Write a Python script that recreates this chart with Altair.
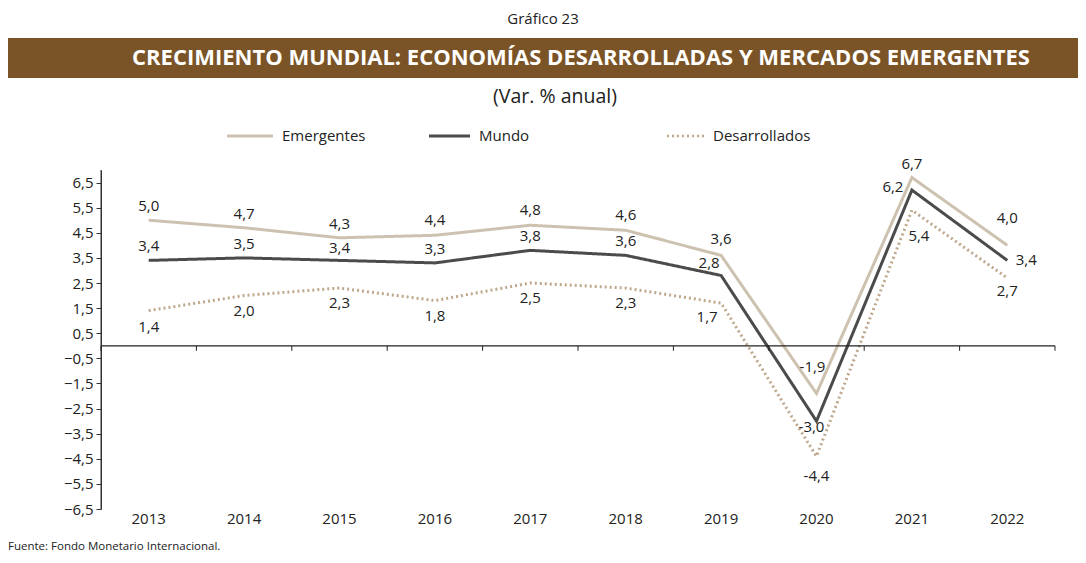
import altair as alt
import pandas as pd

# ---- data ----
years = ["2013", "2014", "2015", "2016", "2017", "2018", "2019", "2020", "2021", "2022"]
series_names = ["Emergentes", "Mundo", "Desarrollados"]
emergentes = [5.0, 4.7, 4.3, 4.4, 4.8, 4.6, 3.6, -1.9, 6.7, 4.0]
mundo = [3.4, 3.5, 3.4, 3.3, 3.8, 3.6, 2.8, -3.0, 6.2, 3.4]
desarrollados = [1.4, 2.0, 2.3, 1.8, 2.5, 2.3, 1.7, -4.4, 5.4, 2.7]
y_ticks = [-6.5, -5.5, -4.5, -3.5, -2.5, -1.5, -0.5, 0.5, 1.5, 2.5, 3.5, 4.5, 5.5, 6.5]
y_domain = [-6.5, 7.0]

# label placement offsets (pixels), kept apart from the values
emer_dx = [0, 0, 0, 0, 0, 0, 0, -4, 0, 0]
emer_dy = [-14, -14, -14, -15, -15, -15, -16, -26, -14, -27]
mundo_dx = [0, 0, 0, 0, 0, 0, -12, -5, -19, 19]
mundo_dy = [-14, -14, -12, -14, -14, -14, -12, 6, -3, 0]
des_dx = [0, 0, 0, 0, 0, 0, -14, 0, 7, 0]
des_dy = [16, 15, 15, 15, 15, 15, 14, 20, 26, 13]

colors = ["#cdc2b0", "#4b4b4b", "#bfa78c"]
dashes = [[1, 0], [1, 0], [2, 3]]
widths = [3, 3, 2.5]

rows = []
for name, vals, dxs, dys in [
    ("Emergentes", emergentes, emer_dx, emer_dy),
    ("Mundo", mundo, mundo_dx, mundo_dy),
    ("Desarrollados", desarrollados, des_dx, des_dy),
]:
    for y, v, dx, dy in zip(years, vals, dxs, dys):
        rows.append({"year": y, "series": name, "value": v, "dx": dx, "dy": dy})
df = pd.DataFrame(rows)
df["label"] = df["value"].map(lambda v: f"{v:.1f}".replace(".", ","))

FONT = "Open Sans"
W, H = 954, 339

x_scale = alt.Scale(type="band", domain=years, paddingInner=0, paddingOuter=0)
y_scale = alt.Scale(domain=y_domain, nice=False, zero=False)

x_enc = alt.X("year:O", scale=x_scale, title=None, bandPosition=0.5,
              axis=alt.Axis(labelAngle=0, bandPosition=0.5))
y_enc = alt.Y("value:Q", scale=y_scale, title=None,
              axis=alt.Axis(values=y_ticks, tickCount=40,
                            labelExpr="replace(format(datum.value, '.1f'), '.', ',')"))

color = alt.Color("series:N", scale=alt.Scale(domain=series_names, range=colors), legend=None)
dash = alt.StrokeDash("series:N", scale=alt.Scale(domain=series_names, range=dashes), legend=None)
swidth = alt.StrokeWidth("series:N", scale=alt.Scale(domain=series_names, range=widths), legend=None)

lines = alt.Chart(df).mark_line(strokeCap="butt", strokeJoin="miter").encode(
    x=x_enc, y=y_enc, color=color, strokeDash=dash, strokeWidth=swidth,
    detail="series:N"
)

# value labels: one layer per distinct offset
label_layers = []
for (dx, dy), _ in df.groupby(["dx", "dy"]):
    label_layers.append(
        alt.Chart(df).transform_filter(
            (alt.datum.dx == int(dx)) & (alt.datum.dy == int(dy))
        ).mark_text(fontSize=15, font=FONT, color="#222", dx=int(dx), dy=int(dy)).encode(
            x=alt.X("year:O", scale=x_scale, bandPosition=0.5),
            y=alt.Y("value:Q", scale=y_scale),
            text="label:N",
        )
    )

one = pd.DataFrame({"year": years})
single = one.head(1)

zero_rule = alt.Chart(pd.DataFrame({"value": [0.0]})).mark_rule(color="#222", strokeWidth=1.2).encode(
    y=alt.Y("value:Q", scale=y_scale)
)
y_domain_line = alt.Chart(single).mark_rule(color="#333", strokeWidth=1).encode(
    x=alt.value(0), y=alt.datum(y_domain[0]), y2=alt.datum(y_domain[1])
)
ticks = alt.Chart(one).mark_rule(color="#222", strokeWidth=1).encode(
    x=alt.X("year:O", scale=x_scale, bandPosition=0),
    y=alt.datum(0), y2=alt.datum(-0.2),
)
last_tick = alt.Chart(one).transform_filter(alt.datum.year == years[-1]).mark_rule(
    color="#222", strokeWidth=1).encode(
    x=alt.X("year:O", scale=x_scale, bandPosition=1),
    y=alt.datum(0), y2=alt.datum(-0.2),
)

# decorations: headings, banner, legend, source
deco = []
deco.append(alt.Chart(single).mark_text(text="Gráfico 23", fontSize=15, font=FONT,
                                        color="#222").encode(x=alt.value(442), y=alt.value(-151)))
deco.append(alt.Chart(single).mark_rect(color="#7a5426").encode(
    x=alt.value(-93), x2=alt.value(977), y=alt.value(-132), y2=alt.value(-92)))
deco.append(alt.Chart(single).mark_text(
    text="CRECIMIENTO MUNDIAL: ECONOMÍAS DESARROLLADAS Y MERCADOS EMERGENTES",
    fontSize=22, font=FONT, fontWeight="bold", color="white").encode(
    x=alt.value(480), y=alt.value(-112)))
deco.append(alt.Chart(single).mark_text(text="(Var. % anual)", fontSize=19.5, font=FONT,
                                        color="#222").encode(x=alt.value(454), y=alt.value(-73)))
deco.append(alt.Chart(single).mark_text(text="Fuente: Fondo Monetario Internacional.",
                                        fontSize=11.5, font=FONT, color="#222", align="left").encode(
    x=alt.value(-93), y=alt.value(377)))

legend_x0 = [126, 328, 566]
legend_len = [46, 41, 37]
for i, name in enumerate(series_names):
    deco.append(alt.Chart(single).mark_rule(
        color=colors[i], strokeWidth=widths[i], strokeDash=dashes[i], strokeCap="butt").encode(
        x=alt.value(legend_x0[i]), x2=alt.value(legend_x0[i] + legend_len[i]), y=alt.value(-34)))
    deco.append(alt.Chart(single).mark_text(
        text=name, fontSize=15, font=FONT, color="#222", align="left").encode(
        x=alt.value(legend_x0[i] + legend_len[i] + 9), y=alt.value(-34)))

chart = alt.layer(lines, zero_rule, y_domain_line, ticks, last_tick, *label_layers, *deco).properties(
    width=W, height=H,
    autosize=alt.AutoSizeParams(type="none"),
    padding={"left": 93, "top": 162, "right": 23, "bottom": 46},
).configure_view(stroke=None).configure_axisY(
    grid=False, domain=True, domainColor="#333", domainWidth=1, tickColor="#333",
    tickSize=5, labelOverlap=False, labelFontSize=15, labelColor="#222", labelFont=FONT,
    labelPadding=3, title=None,
).configure_axisX(
    grid=False, domain=False, ticks=False, labelPadding=2, labelOverlap=False,
    labelFontSize=15, labelColor="#222", labelFont=FONT, title=None,
)

chart.save("out.html", embed_options={"renderer": "svg", "actions": False})
